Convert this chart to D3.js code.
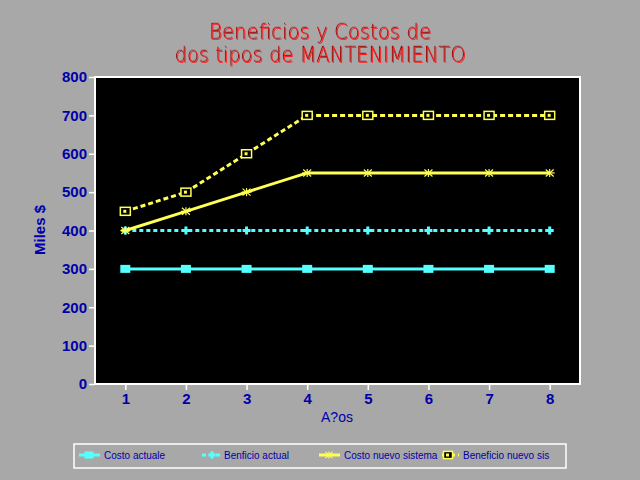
<!DOCTYPE html>
<html>
<head>
<meta charset="utf-8">
<script src="https://cdn.jsdelivr.net/npm/d3@7.9.0/dist/d3.min.js"></script>
<style>
  html, body { margin: 0; padding: 0; background: #a8a8a8; }
  svg { display: block; }
</style>
</head>
<body>
<div id="chart"></div>
<script>
// chart data
const titleLines = ['Beneficios y Costos de', 'dos tipos de MANTENIMIENTO'];
const years = [1, 2, 3, 4, 5, 6, 7, 8];
const yTicks = [0, 100, 200, 300, 400, 500, 600, 700, 800];
const costoActuale = [300, 300, 300, 300, 300, 300, 300, 300];
const benficioActual = [400, 400, 400, 400, 400, 400, 400, 400];
const costoNuevo = [400, 450, 500, 550, 550, 550, 550, 550];
const beneficioNuevo = [450, 500, 600, 700, 700, 700, 700, 700];
const seriesNames = ['Costo actuale', 'Benficio actual', 'Costo nuevo sistema', 'Beneficio nuevo sis'];

const CYAN = '#55ffff', YELLOW = '#ffff55', BLUE = '#0000aa', RED = '#ff2020';

const series = [
  { name: seriesNames[0], values: costoActuale, color: CYAN, dash: null, marker: 'fsquare' },
  { name: seriesNames[1], values: benficioActual, color: CYAN, dash: '4,3', marker: 'plus' },
  { name: seriesNames[2], values: costoNuevo, color: YELLOW, dash: null, marker: 'star' },
  { name: seriesNames[3], values: beneficioNuevo, color: YELLOW, dash: '5,3', marker: 'osquare' },
];

const width = 640, height = 480;
const plot = { left: 95, right: 580, top: 77, bottom: 384 };

const svg = d3.select('#chart').append('svg')
  .attr('width', width).attr('height', height);

svg.append('rect').attr('width', width).attr('height', height).attr('fill', '#a8a8a8');

// title: one text per line, dark red shade via drop-shadow
const titleY = [39, 62];
const titleW = [222, 291];
titleLines.forEach((t, i) => {
  svg.append('g')
    .attr('transform', `translate(321,${titleY[i] + 1}) scale(1,1.2)`)
    .append('text')
    .attr('text-anchor', 'middle')
    .attr('font-family', 'DejaVu Sans')
    .attr('font-weight', 200)
    .attr('font-size', 18)
    .attr('textLength', titleW[i])
    .attr('lengthAdjust', 'spacingAndGlyphs')
    .attr('fill', RED)
    .style('filter', 'drop-shadow(-1px -1px 0 #a00000)')
    .text(t);
});

// scales
const x = d3.scaleLinear().domain([0.5, 8.5]).range([plot.left, plot.right]);
const y = d3.scaleLinear().domain([0, 800]).range([plot.bottom, plot.top]);

// plot background
svg.append('rect')
  .attr('x', plot.left).attr('y', plot.top)
  .attr('width', plot.right - plot.left).attr('height', plot.bottom - plot.top)
  .attr('fill', '#000');

// axes
const yAxis = svg.append('g')
  .attr('transform', `translate(${plot.left},0)`)
  .call(d3.axisLeft(y).tickValues(yTicks).tickSize(6).tickPadding(2).tickFormat(d3.format('d')));
const xAxis = svg.append('g')
  .attr('transform', `translate(0,${plot.bottom})`)
  .call(d3.axisBottom(x).tickValues(years).tickSize(6).tickPadding(3).tickFormat(d3.format('d')));

[yAxis, xAxis].forEach(g => {
  g.select('.domain').remove();
  g.selectAll('.tick line').attr('stroke', '#fff').attr('stroke-width', 1.5);
  g.selectAll('.tick text')
    .attr('fill', BLUE)
    .attr('font-family', 'Liberation Sans, Arial, sans-serif')
    .attr('font-weight', 'bold')
    .attr('font-size', 15);
});

// frame
svg.append('rect')
  .attr('x', plot.left).attr('y', plot.top)
  .attr('width', plot.right - plot.left).attr('height', plot.bottom - plot.top)
  .attr('fill', 'none').attr('stroke', '#fff').attr('stroke-width', 2);

// axis titles
svg.append('text')
  .attr('transform', 'translate(45,230) rotate(-90)')
  .attr('text-anchor', 'middle')
  .attr('font-family', 'Liberation Sans, Arial, sans-serif')
  .attr('font-weight', 'bold')
  .attr('font-size', 15)
  .attr('fill', BLUE)
  .text('Miles $');

svg.append('text')
  .attr('x', 337).attr('y', 422)
  .attr('text-anchor', 'middle')
  .attr('font-family', 'Liberation Sans, Arial, sans-serif')
  .attr('font-size', 14)
  .attr('fill', BLUE)
  .text('A?os');

// markers
function drawMarker(g, type, cx, cy, color, s = 1) {
  if (type === 'fsquare') {
    g.append('rect').attr('x', cx - 5 * s).attr('y', cy - 4 * s)
      .attr('width', 10 * s).attr('height', 8 * s).attr('fill', color);
  } else if (type === 'plus') {
    g.append('line').attr('x1', cx - 4 * s).attr('x2', cx + 4 * s).attr('y1', cy).attr('y2', cy)
      .attr('stroke', color).attr('stroke-width', 3);
    g.append('line').attr('x1', cx).attr('x2', cx).attr('y1', cy - 4 * s).attr('y2', cy + 4 * s)
      .attr('stroke', color).attr('stroke-width', 3);
  } else if (type === 'star') {
    const r = 5 * s;
    [[-r, 0, r, 0], [0, -r * 0.8, 0, r * 0.8], [-r * 0.8, -r * 0.7, r * 0.8, r * 0.7], [-r * 0.8, r * 0.7, r * 0.8, -r * 0.7]]
      .forEach(([a, b, c, d]) => g.append('line')
        .attr('x1', cx + a).attr('y1', cy + b).attr('x2', cx + c).attr('y2', cy + d)
        .attr('stroke', color).attr('stroke-width', 1.2));
  } else if (type === 'osquare') {
    g.append('rect').attr('x', cx - 5 * s).attr('y', cy - 4 * s)
      .attr('width', 10 * s).attr('height', 8 * s)
      .attr('fill', '#000').attr('stroke', color).attr('stroke-width', 1.5);
    g.append('rect').attr('x', cx - 2).attr('y', cy - 1.5)
      .attr('width', 3).attr('height', 3).attr('fill', color);
  }
}

const line = d3.line().x((d, i) => x(years[i])).y(d => y(d));
const marks = svg.append('g');
series.forEach(s => {
  marks.append('path')
    .attr('d', line(s.values))
    .attr('fill', 'none')
    .attr('stroke', s.color)
    .attr('stroke-width', 3)
    .attr('stroke-dasharray', s.dash);
  s.values.forEach((v, i) => drawMarker(marks, s.marker, x(years[i]), y(v), s.color));
});

// legend
const legend = svg.append('g');
legend.append('rect')
  .attr('x', 74).attr('y', 444).attr('width', 492).attr('height', 24)
  .attr('fill', '#a8a8a8').attr('stroke', '#fff').attr('stroke-width', 1.5);

const legendX = [79, 202, 319, 442];
const legendLen = [21, 18, 21, 17];
const legendMarkX = [89, 212, 329, 448];
series.forEach((s, i) => {
  const ly = 455;
  legend.append('line')
    .attr('x1', legendX[i]).attr('x2', legendX[i] + legendLen[i])
    .attr('y1', ly).attr('y2', ly)
    .attr('stroke', s.color).attr('stroke-width', 3)
    .attr('stroke-dasharray', s.dash);
  drawMarker(legend, s.marker, legendMarkX[i], ly, s.color, 0.9);
  legend.append('text')
    .attr('x', legendX[i] + legendLen[i] + 4).attr('y', ly + 3.5)
    .attr('font-family', 'Liberation Sans, Arial, sans-serif')
    .attr('font-size', 10)
    .attr('fill', BLUE)
    .text(s.name);
});
</script>
</body>
</html>
